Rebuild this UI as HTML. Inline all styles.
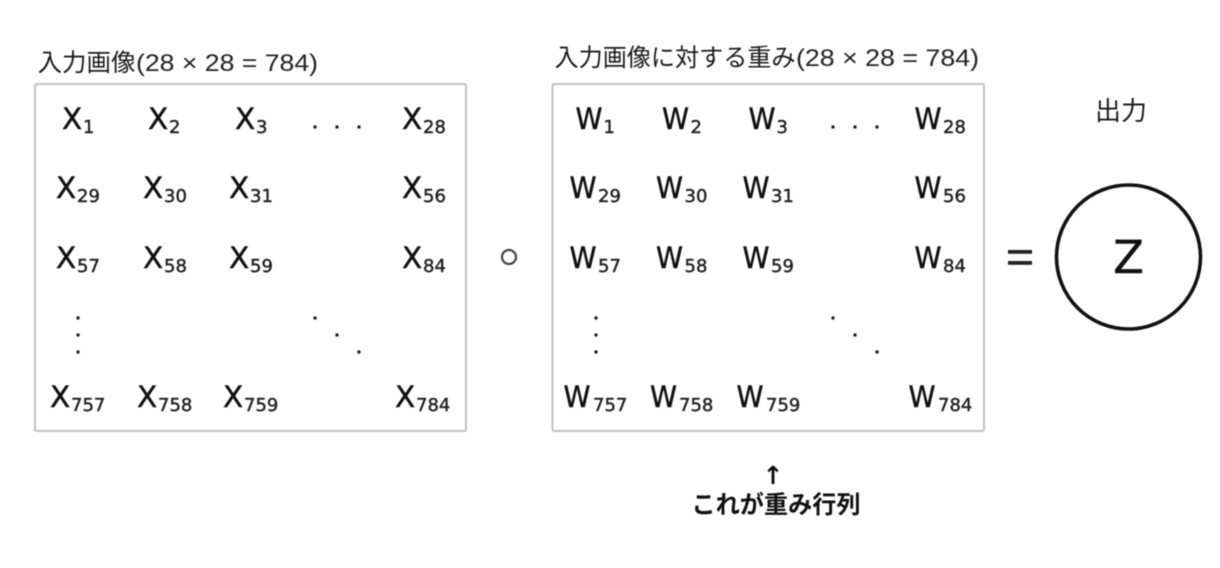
<!DOCTYPE html>
<html lang="ja">
<head>
<meta charset="utf-8">
<title>入力画像と重み行列</title>
<style>
html,body{margin:0;padding:0;background:#fff;width:1220px;height:568px;overflow:hidden}
svg{display:block;filter:blur(.6px)}
.j{font-family:"Noto Sans CJK JP",sans-serif;font-size:24.5px;fill:#1c1c1c}
.l{font-family:"Liberation Sans",sans-serif;font-size:24.5px;fill:#222}
.b{font-weight:700;fill:#111}
.m{font-family:"DejaVu Sans",sans-serif;font-size:29.5px;fill:#111;stroke:#111;stroke-width:.45px}
.s{font-family:"DejaVu Sans",sans-serif;font-size:18px;fill:#222;stroke:#222;stroke-width:.45px}
.d{fill:#222}
</style>
</head>
<body>
<svg width="1220" height="568" viewBox="0 0 1220 568" xmlns="http://www.w3.org/2000/svg">
<rect width="1220" height="568" fill="#fff"/>
<text class="j" x="37.5" y="71" textLength="98" lengthAdjust="spacingAndGlyphs">入力画像</text>
<text class="l" x="136" y="71" textLength="182" lengthAdjust="spacingAndGlyphs">(28 × 28 = 784)</text>
<text class="j" x="554.5" y="66" textLength="241" lengthAdjust="spacingAndGlyphs">入力画像に対する重み</text>
<text class="l" x="796" y="66" textLength="183" lengthAdjust="spacingAndGlyphs">(28 × 28 = 784)</text>
<text class="j" x="1095" y="120" textLength="52" lengthAdjust="spacingAndGlyphs" style="font-size:26px">出力</text>
<rect x="35" y="84" width="431" height="347" rx="1.5" fill="#fff" stroke="#c2c2c2" stroke-width="2"/>
<rect x="552.5" y="84" width="431.5" height="347" rx="1.5" fill="#fff" stroke="#c2c2c2" stroke-width="2"/>

<text class="m" x="62" y="129">X</text><text class="s" x="83" y="133">1</text>
<text class="m" x="148" y="129">X</text><text class="s" x="169" y="133">2</text>
<text class="m" x="235" y="129">X</text><text class="s" x="256" y="133">3</text>
<text class="m" x="402" y="129">X</text><text class="s" x="423" y="133">28</text>
<text class="m" x="56" y="198">X</text><text class="s" x="77" y="202">29</text>
<text class="m" x="143" y="198">X</text><text class="s" x="164" y="202">30</text>
<text class="m" x="229" y="198">X</text><text class="s" x="250" y="202">31</text>
<text class="m" x="402" y="198">X</text><text class="s" x="423" y="202">56</text>
<text class="m" x="56" y="268">X</text><text class="s" x="77" y="272">57</text>
<text class="m" x="143" y="268">X</text><text class="s" x="164" y="272">58</text>
<text class="m" x="229" y="268">X</text><text class="s" x="250" y="272">59</text>
<text class="m" x="402" y="268">X</text><text class="s" x="423" y="272">84</text>
<text class="m" x="50" y="407">X</text><text class="s" x="71" y="411">757</text>
<text class="m" x="137" y="407">X</text><text class="s" x="158" y="411">758</text>
<text class="m" x="223" y="407">X</text><text class="s" x="244" y="411">759</text>
<text class="m" x="395" y="407">X</text><text class="s" x="416" y="411">784</text>

<text class="m" x="575.5" y="129" textLength="27" lengthAdjust="spacingAndGlyphs">W</text><text class="s" x="603.5" y="133">1</text>
<text class="m" x="662" y="129" textLength="27" lengthAdjust="spacingAndGlyphs">W</text><text class="s" x="690.5" y="133">2</text>
<text class="m" x="748.5" y="129" textLength="27" lengthAdjust="spacingAndGlyphs">W</text><text class="s" x="776.5" y="133">3</text>
<text class="m" x="914.5" y="129" textLength="27" lengthAdjust="spacingAndGlyphs">W</text><text class="s" x="943" y="133">28</text>
<text class="m" x="569.5" y="198" textLength="27" lengthAdjust="spacingAndGlyphs">W</text><text class="s" x="598" y="202">29</text>
<text class="m" x="656" y="198" textLength="27" lengthAdjust="spacingAndGlyphs">W</text><text class="s" x="684.5" y="202">30</text>
<text class="m" x="742.5" y="198" textLength="27" lengthAdjust="spacingAndGlyphs">W</text><text class="s" x="771" y="202">31</text>
<text class="m" x="914.5" y="198" textLength="27" lengthAdjust="spacingAndGlyphs">W</text><text class="s" x="943" y="202">56</text>
<text class="m" x="569.5" y="268" textLength="27" lengthAdjust="spacingAndGlyphs">W</text><text class="s" x="598" y="272">57</text>
<text class="m" x="656" y="268" textLength="27" lengthAdjust="spacingAndGlyphs">W</text><text class="s" x="684.5" y="272">58</text>
<text class="m" x="742.5" y="268" textLength="27" lengthAdjust="spacingAndGlyphs">W</text><text class="s" x="771" y="272">59</text>
<text class="m" x="914.5" y="268" textLength="27" lengthAdjust="spacingAndGlyphs">W</text><text class="s" x="943" y="272">84</text>
<text class="m" x="563.5" y="407" textLength="27" lengthAdjust="spacingAndGlyphs">W</text><text class="s" x="593" y="411">757</text>
<text class="m" x="650" y="407" textLength="27" lengthAdjust="spacingAndGlyphs">W</text><text class="s" x="679" y="411">758</text>
<text class="m" x="736.5" y="407" textLength="27" lengthAdjust="spacingAndGlyphs">W</text><text class="s" x="766" y="411">759</text>
<text class="m" x="908.5" y="407" textLength="27" lengthAdjust="spacingAndGlyphs">W</text><text class="s" x="938" y="411">784</text>

<g class="d">
<circle cx="315" cy="127" r="1.7"/><circle cx="337" cy="127" r="1.7"/><circle cx="359" cy="127" r="1.7"/>
<circle cx="78" cy="318" r="1.7"/><circle cx="78" cy="335" r="1.7"/><circle cx="78" cy="352" r="1.7"/>
<circle cx="315" cy="318" r="1.7"/><circle cx="337" cy="335" r="1.7"/><circle cx="359" cy="352" r="1.7"/>
<circle cx="833" cy="127" r="1.7"/><circle cx="855" cy="127" r="1.7"/><circle cx="877" cy="127" r="1.7"/>
<circle cx="596" cy="318" r="1.7"/><circle cx="596" cy="335" r="1.7"/><circle cx="596" cy="352" r="1.7"/>
<circle cx="833" cy="318" r="1.7"/><circle cx="855" cy="335" r="1.7"/><circle cx="877" cy="352" r="1.7"/>
</g>

<circle cx="509" cy="257" r="7" fill="none" stroke="#444" stroke-width="2.2"/>
<rect x="1008" y="250" width="24" height="3.8" fill="#222"/>
<rect x="1008" y="261" width="24" height="3.8" fill="#222"/>
<circle cx="1128.5" cy="257" r="72" fill="#fff" stroke="#111" stroke-width="3.6"/>
<text x="1128.5" y="273" text-anchor="middle" font-family="'DejaVu Sans',sans-serif" font-size="45" fill="#111" stroke="#111" stroke-width=".4">Z</text>

<text x="773" y="484" text-anchor="middle" font-family="'DejaVu Sans',sans-serif" font-weight="700" font-size="25" fill="#111">↑</text>
<text class="j b" x="691.5" y="513" textLength="169" lengthAdjust="spacingAndGlyphs">これが重み行列</text>
</svg>
</body>
</html>
